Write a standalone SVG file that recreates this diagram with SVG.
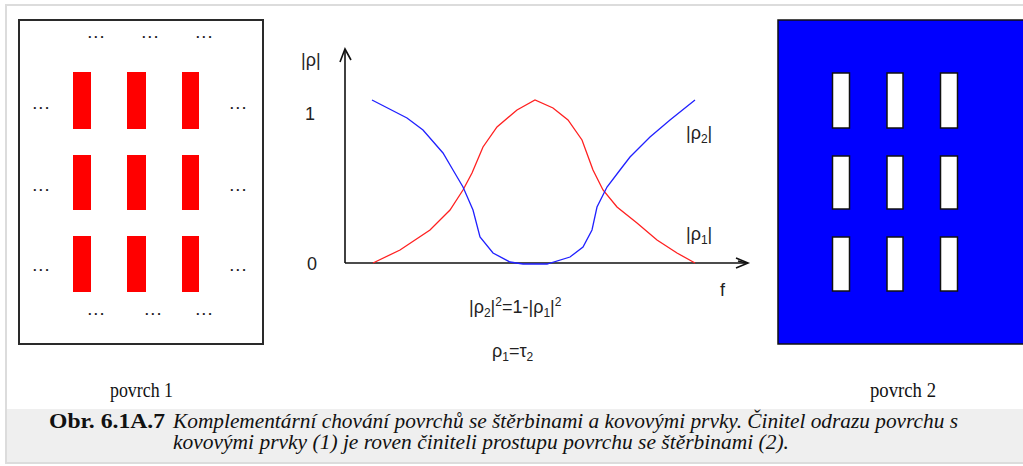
<svg xmlns="http://www.w3.org/2000/svg" width="1023" height="466" viewBox="0 0 1023 466">
<style>
.frame{fill:#fff;stroke:#dcdcdc;stroke-width:2}
.band{fill:#efefef}
.lbox{fill:#fff;stroke:#2a2a2a;stroke-width:2}
.rbox{fill:#0000ff;stroke:#111;stroke-width:1.5}
.metal{fill:#ff0000}
.slot{fill:#fff;stroke:#111;stroke-width:1.5}
.dots{font-family:"Liberation Sans",Arial,sans-serif;font-size:13px;font-weight:bold;fill:#222;letter-spacing:2.5px}
.lab{font-family:"Liberation Sans",Arial,sans-serif;font-size:18px;fill:#222}
.sub{font-size:12px}
.ser{font-family:"Liberation Serif","Times New Roman",serif;font-size:20px;fill:#111}
.axis{stroke:#111;stroke-width:1.6;fill:none}
.red{stroke:#ff2020;stroke-width:1.3;fill:none}
.blue{stroke:#2020ff;stroke-width:1.3;fill:none}
</style>
<rect class="frame" x="6" y="5" width="1022" height="458"/>
<rect class="band" x="7" y="409" width="1016" height="53"/>
<line x1="6" y1="463" x2="1023" y2="463" stroke="#dcdcdc" stroke-width="2"/>

<g id="povrch1">
<rect class="lbox" x="19" y="20" width="244" height="324"/>
<rect class="metal" x="73" y="72" width="18" height="57"/>
<rect class="metal" x="127" y="72" width="19" height="57"/>
<rect class="metal" x="182" y="72" width="17" height="57"/>
<rect class="metal" x="73" y="155" width="18" height="55"/>
<rect class="metal" x="127" y="155" width="19" height="55"/>
<rect class="metal" x="182" y="155" width="17" height="55"/>
<rect class="metal" x="73" y="236" width="18" height="56"/>
<rect class="metal" x="127" y="236" width="19" height="56"/>
<rect class="metal" x="182" y="236" width="17" height="56"/>
<text class="dots" x="88" y="38">...</text>
<text class="dots" x="142" y="38">...</text>
<text class="dots" x="196" y="38">...</text>
<text class="dots" x="33" y="109">...</text>
<text class="dots" x="230" y="109">...</text>
<text class="dots" x="33" y="191">...</text>
<text class="dots" x="230" y="191">...</text>
<text class="dots" x="33" y="271">...</text>
<text class="dots" x="230" y="271">...</text>
<text class="dots" x="88" y="315">...</text>
<text class="dots" x="145" y="315">...</text>
<text class="dots" x="196" y="315">...</text>
<text class="ser" x="110" y="397" textLength="63" lengthAdjust="spacingAndGlyphs">povrch 1</text>
</g>

<g id="povrch2">
<rect class="rbox" x="778" y="20" width="250" height="324"/>
<rect class="slot" x="832.5" y="73" width="17" height="55"/>
<rect class="slot" x="887" y="73" width="16" height="55"/>
<rect class="slot" x="940.5" y="73" width="17" height="55"/>
<rect class="slot" x="832.5" y="156" width="17" height="53"/>
<rect class="slot" x="887" y="156" width="16" height="53"/>
<rect class="slot" x="940.5" y="156" width="17" height="53"/>
<rect class="slot" x="832.5" y="237" width="17" height="54"/>
<rect class="slot" x="887" y="237" width="16" height="54"/>
<rect class="slot" x="940.5" y="237" width="17" height="54"/>
<text class="ser" x="870" y="397" textLength="66" lengthAdjust="spacingAndGlyphs">povrch 2</text>
</g>

<g id="graph">
<g id="axes">
<line class="axis" x1="345" y1="263" x2="345" y2="49"/>
<polyline class="axis" points="340,62 345,49 351,60"/>
<line class="axis" x1="345" y1="263" x2="748" y2="263"/>
<polyline class="axis" points="736,258 748,263 736,268"/>
<line class="axis" x1="738" y1="261" x2="746" y2="263"/>
</g>
<g id="curves">
<polyline class="red" points="373,263 400,250 430,230 450,210 463,190 472,173 483,147 497,127 517,110 535,100 553,108 568,120 582,140 593,170 603,190 617,207 637,223 657,240 677,253 695,263"/>
<polyline class="blue" points="372,100 407,118 423,130 443,153 453,170 463,187 473,210 480,237 493,253 510,262 523,264 547,264 570,257 583,247 592,230 597,207 607,187 620,170 630,157 650,137 670,120 695,100"/>
</g>
<text class="lab" x="301" y="66">|ρ|</text>
<text class="lab" x="305" y="120">1</text>
<text class="lab" x="307" y="270">0</text>
<text class="lab" x="720" y="296">f</text>
<text class="lab" x="686" y="139">|ρ<tspan class="sub" dy="4">2</tspan><tspan dy="-4">|</tspan></text>
<text class="lab" x="686" y="240">|ρ<tspan class="sub" dy="4">1</tspan><tspan dy="-4">|</tspan></text>
<text class="lab" x="469" y="313">|ρ<tspan class="sub" dy="4">2</tspan><tspan dy="-4">|</tspan><tspan class="sub" dy="-7">2</tspan><tspan dy="7">=1-|ρ</tspan><tspan class="sub" dy="4">1</tspan><tspan dy="-4">|</tspan><tspan class="sub" dy="-7">2</tspan></text>
<text class="lab" x="492" y="357">ρ<tspan class="sub" dy="4">1</tspan><tspan dy="-4">=τ</tspan><tspan class="sub" dy="4">2</tspan></text>
</g>

<g id="caption">
<text class="ser" x="49" y="428" font-weight="bold" textLength="116" lengthAdjust="spacingAndGlyphs">Obr. 6.1A.7</text>
<text class="ser" x="173" y="428" font-style="italic" textLength="785" lengthAdjust="spacingAndGlyphs">Komplementární chování povrchů se štěrbinami a kovovými prvky. Činitel odrazu povrchu s</text>
<text class="ser" x="173" y="449" font-style="italic" textLength="616" lengthAdjust="spacingAndGlyphs">kovovými prvky (1) je roven činiteli prostupu povrchu se štěrbinami (2).</text>
</g>
</svg>
